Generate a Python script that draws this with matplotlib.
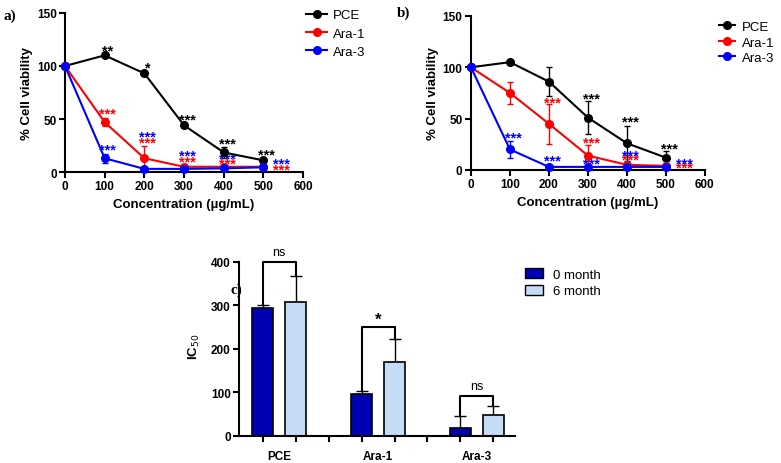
import matplotlib
matplotlib.use("Agg")
import matplotlib.pyplot as plt
from matplotlib.patches import Patch
from matplotlib.lines import Line2D

plt.rcParams['font.family'] = ['Liberation Sans', 'DejaVu Sans']

conc = [0, 100, 200, 300, 400, 500]

# Panel a
a_pce = [100, 110, 93, 44, 18.5, 11]
a_pce_err = [0.5, 1.5, 1.5, 1.5, 5.5, 1.5]
a_ara1 = [100, 47, 13, 5, 5, 5]
a_ara1_err = [0.5, 4, 12, 1, 1, 1]
a_ara3 = [100, 13, 3, 3, 3.5, 4.5]
a_ara3_err = [0.5, 4.5, 1, 1, 1, 1]

# Panel b
b_pce = [100, 105, 86, 51, 26, 12]
b_pce_err = [0.5, 2, 14, 16, 17, 6]
b_ara1 = [100, 75, 45, 14, 5, 4]
b_ara1_err = [0.5, 10.5, 19.5, 10, 2, 1]
b_ara3 = [100, 20, 3, 3, 3, 3]
b_ara3_err = [0.5, 8, 1, 1, 1, 1]

# significance labels: (x, y, text, color)
a_stars = [(100, 116, "**", "black"), (200, 100, "*", "black"), (300, 51, "***", "black"),
           (400, 28.5, "***", "black"), (500, 18, "***", "black"),
           (100, 57, "***", "red"), (200, 29, "***", "red"), (300, 11.5, "***", "red"),
           (400, 10, "***", "red"), (538, 4, "***", "red"),
           (100, 23, "***", "blue"), (200, 35, "***", "blue"), (300, 17, "***", "blue"),
           (400, 14.5, "***", "blue"), (538, 9.4, "***", "blue")]
b_stars = [(300, 71, "***", "black"), (400, 48.5, "***", "black"), (500, 22, "***", "black"),
           (200, 67, "***", "red"), (300, 28, "***", "red"), (400, 11.7, "***", "red"),
           (540, 3.6, "***", "red"),
           (100, 33, "***", "blue"), (200, 10.7, "***", "blue"), (300, 8, "***", "blue"),
           (400, 16, "***", "blue"), (540, 8, "***", "blue")]

# Panel c
groups = ["PCE", "Ara-1", "Ara-3"]
ic0 = [294, 96, 18]
ic0_err = [8, 7, 28]
ic6 = [309, 171, 48]
ic6_err = [58, 51, 21]
brackets = [(400, 303, 367, "ns"), (250, 105, 222, "*"), (92, 48, 70, "ns")]

fig = plt.figure(figsize=(7.81, 4.64), dpi=100)

def line_panel(rect, pce, pce_e, a1, a1_e, a3, a3_e, stars, legend_xy, hl, htp, ls):
    ax = fig.add_axes(rect)
    for y, e, c, lab in [(pce, pce_e, "black", "PCE"), (a1, a1_e, "red", "Ara-1"), (a3, a3_e, "blue", "Ara-3")]:
        ax.errorbar(conc, y, yerr=e, color=c, marker="o", markersize=5.5, lw=1.5,
                    capsize=2.5, elinewidth=1, capthick=1, label=lab, clip_on=False, zorder=3)
    for x, y, t, c in stars:
        ax.text(x + 8, y - 1.5, t, color=c, ha="center", va="center", fontsize=10.5, fontweight="bold")
    ax.set_xlim(0, 600)
    ax.set_ylim(0, 150)
    ax.set_xticks([0, 100, 200, 300, 400, 500, 600])
    ax.set_yticks([0, 50, 100, 150])
    for s in ["top", "right"]:
        ax.spines[s].set_visible(False)
    for s in ["left", "bottom"]:
        ax.spines[s].set_linewidth(1.5)
    ax.tick_params(width=1.5, length=4, labelsize=8.5, pad=2)
    for lbl in ax.get_xticklabels() + ax.get_yticklabels():
        lbl.set_fontweight("bold")
    ax.set_xlabel("Concentration (µg/mL)", fontsize=9.5, fontweight="bold", labelpad=4)
    ax.set_ylabel("% Cell viability", fontsize=9.5, fontweight="bold", labelpad=3)
    handles = [Line2D([0], [0], color=c, marker="o", markersize=5.5, lw=1.5) for c in ["black", "red", "blue"]]
    fig.legend(handles, ["PCE", "Ara-1", "Ara-3"], loc="upper left", bbox_to_anchor=legend_xy,
               frameon=False, fontsize=9.5, handlelength=hl, handletextpad=htp, labelspacing=ls,
               borderaxespad=0, borderpad=0)
    return ax

axa = line_panel([0.0832, 0.627, 0.305, 0.343], a_pce, a_pce_err, a_ara1, a_ara1_err,
                 a_ara3, a_ara3_err, a_stars, (0.392, 0.978), 1.6, 0.4, 0.45)
axb = line_panel([0.603, 0.6315, 0.2996, 0.332], b_pce, b_pce_err, b_ara1, b_ara1_err,
                 b_ara3, b_ara3_err, b_stars, (0.921, 0.953), 1.2, 0.5, 0.25)

# Panel c
axc = fig.add_axes([0.3060, 0.0582, 0.354, 0.375])
pos0 = [0, 3, 6]
pos6 = [1, 4, 7]
dark = "#0000b4"
light = "#c6dcf6"
axc.bar(pos0, ic0, width=0.63, color=dark, edgecolor="black", linewidth=1.2, zorder=2)
axc.bar(pos6, ic6, width=0.63, color=light, edgecolor="black", linewidth=1.2, zorder=2)
axc.errorbar(pos0, ic0, yerr=[[0, 0, 0], ic0_err], fmt="none", ecolor="black", elinewidth=1,
             capsize=4, capthick=1, zorder=1)
axc.errorbar(pos6, ic6, yerr=[[0, 0, 0], ic6_err], fmt="none", ecolor="black", elinewidth=1,
             capsize=4, capthick=1, zorder=1)
for i, (top, l, r, t) in enumerate(brackets):
    x0, x1 = pos0[i], pos6[i]
    axc.plot([x0, x0, x1, x1], [l, top, top, r], color="black", lw=1.5, clip_on=False)
    fs = 12 if t == "*" else 9
    off = 18 if t == "*" else 22
    axc.text((x0 + x1) / 2, top + off, t, ha="center", va="center", fontsize=fs,
             fontweight="bold" if t == "*" else "normal")
axc.set_xlim(-0.72, 7.67)
axc.set_ylim(0, 400)
axc.set_yticks([0, 100, 200, 300, 400])
axc.set_xticks(range(8))
axc.set_xticklabels([""] * 8)
axc.set_xticks([0.5, 3.5, 6.5], minor=True)
axc.set_xticklabels(groups, minor=True, fontsize=8.5, fontweight="bold")
axc.tick_params(axis="x", which="minor", length=0, pad=10)
axc.tick_params(axis="both", which="major", width=1.5, length=4, labelsize=8.5, pad=2)
for lbl in axc.get_yticklabels():
    lbl.set_fontweight("bold")
for s in ["top", "right"]:
    axc.spines[s].set_visible(False)
for s in ["left", "bottom"]:
    axc.spines[s].set_linewidth(1.5)
axc.set_ylabel("IC$_{50}$", fontsize=9.5, fontweight="bold", labelpad=4)
axc.yaxis.set_label_coords(-0.135, 0.52)
handles = [Patch(facecolor=dark, edgecolor="black", linewidth=1), Patch(facecolor=light, edgecolor="black", linewidth=1)]
fig.legend(handles, ["0 month", "6 month"], loc="upper left", bbox_to_anchor=(0.672, 0.42),
           frameon=False, fontsize=9.5, handlelength=1.4, handleheight=0.8, handletextpad=0.7,
           labelspacing=0.3, borderaxespad=0, borderpad=0)

for x, y, t in [(0.005, 0.965, "a)"), (0.508, 0.972, "b)"), (0.295, 0.375, "c)")]:
    fig.text(x, y, t, fontsize=11, fontweight="bold", family=["Liberation Serif", "DejaVu Serif"],
             ha="left", va="center")

fig.savefig("out.png", dpi=100)
